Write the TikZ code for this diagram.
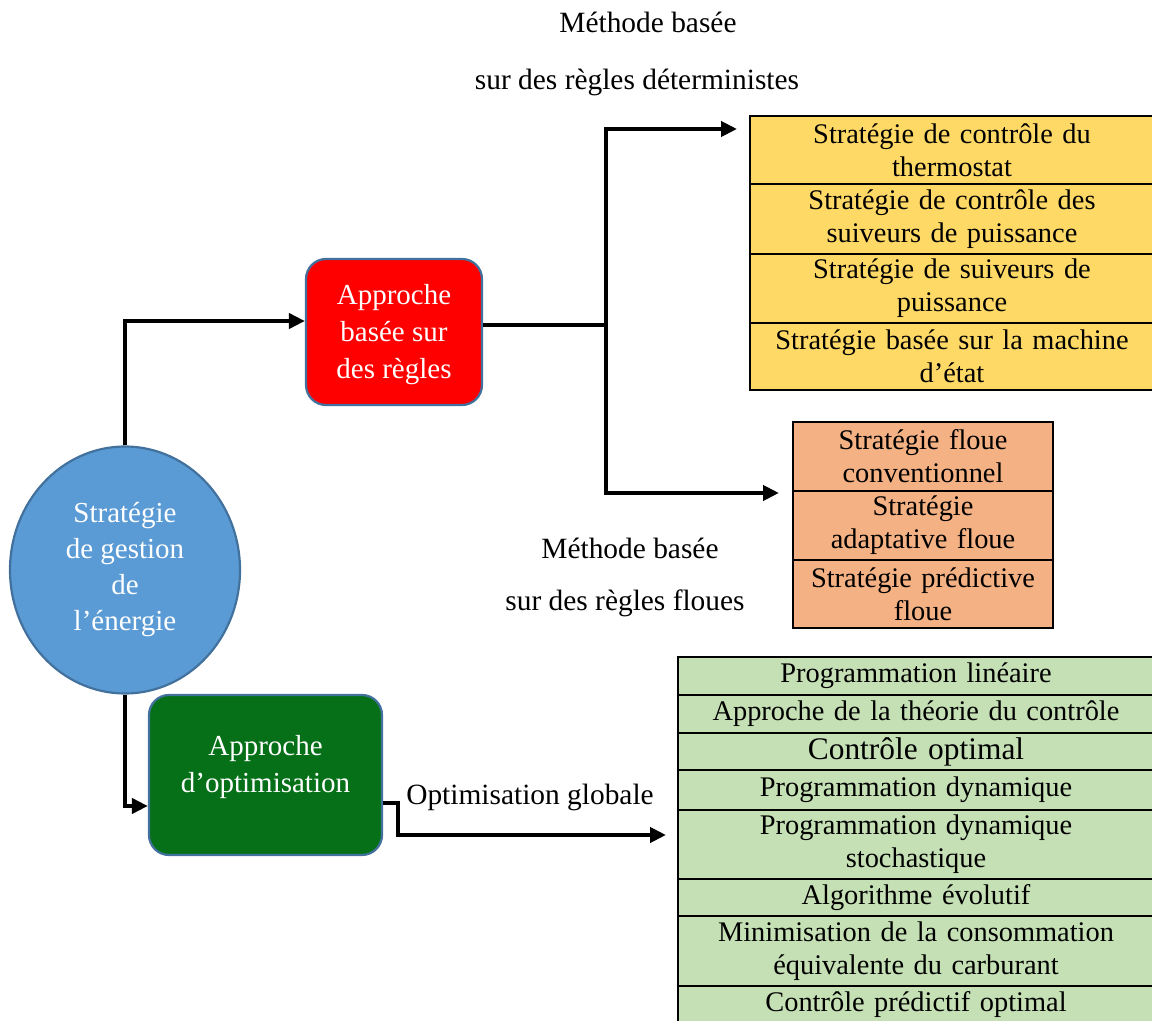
\documentclass[tikz,border=0pt]{standalone}
\usepackage{fontspec}
\setmainfont{Liberation Serif}
\usetikzlibrary{arrows.meta,shapes.geometric,calc}
\definecolor{yfill}{HTML}{FFD966}
\definecolor{ofill}{HTML}{F4B183}
\definecolor{gfill}{HTML}{C5E0B4}
\definecolor{bord}{HTML}{41719C}
\definecolor{rfill}{RGB}{255,0,0}
\definecolor{rdark}{RGB}{185,0,0}
\definecolor{bfill}{HTML}{5B9BD5}
\definecolor{bdark}{RGB}{62,112,170}
\definecolor{dgfill}{RGB}{6,112,24}
\definecolor{dgdark}{RGB}{0,68,12}
\pgfdeclareradialshading{redglow}{\pgfpointorigin}{color(0bp)=(rfill); color(37bp)=(rfill); color(53bp)=(rdark); color(100bp)=(rdark)}
\pgfdeclareradialshading{greenglow}{\pgfpointorigin}{color(0bp)=(dgfill); color(37bp)=(dgfill); color(53bp)=(dgdark); color(100bp)=(dgdark)}
\pgfdeclareradialshading{blueglow}{\pgfpointorigin}{color(0bp)=(bfill); color(43bp)=(bfill); color(50bp)=(bdark); color(100bp)=(bdark)}
\tikzset{
  txt/.style={font=\fontsize{14.2}{16.5}\selectfont, align=center, inner sep=0pt},
  cell/.style={txt, draw=black, line width=1pt, minimum width=#1, text width=#1},
  ycell/.style={cell=202pt, fill=yfill},
  ocell/.style={cell=130pt, fill=ofill},
  gcell/.style={cell=238pt, fill=gfill},
  rbox/.style={draw=bord, line width=1.1pt, rounded corners=10pt, shade},
  wtxt/.style={align=center, inner sep=0pt, text=white},
  conn/.style={line width=2pt, -{Triangle[length=8pt,width=7.5pt]}},
  plain/.style={line width=2pt},
  lbl/.style={font=\fontsize{14.7}{17}\selectfont, inner sep=0pt}
}
\begin{document}
\begin{tikzpicture}[x=0.5pt,y=-0.5pt]
\useasboundingbox (0,0) rectangle (1152,1021);
\clip (0,0) rectangle (1152,1021);

% labels
\node[lbl] (l1) at (648,22) {Méthode basée};
\node[lbl] (l2) at (637,82) {sur des règles déterministes};
\node[lbl] (l3) at (630,548) {Méthode basée};
\node[lbl] (l4) at (625,603) {sur des règles floues};
\node[lbl] (l5) at (530,797) {Optimisation globale};

% main shapes
\node[ellipse, minimum width=115pt, minimum height=123.5pt, inner sep=0pt, draw=bord, line width=1.1pt,
      shade, shading=blueglow, text=white, align=center, font=\fontsize{14.5}{18}\selectfont]
      (ell) at (125,570) {Stratégie\\de gestion\\de\\l’énergie};
\node[rbox, shading=redglow, minimum width=88pt, minimum height=73pt] (red) at (394,332) {};
\node[wtxt, font=\fontsize{14.5}{18.5}\selectfont] (redtxt) at (394,335) {Approche\\basée sur\\des règles};
\node[rbox, shading=greenglow, minimum width=116.5pt, minimum height=80pt] (grn) at (265.5,775) {};
\node[wtxt, font=\fontsize{14.5}{18.5}\selectfont] (grntxt) at (265.5,767) {Approche\\d’optimisation};

% yellow table
\node[ycell, minimum height=34pt] (y1) at (952,150) {Stratégie de contrôle du\\thermostat};
\node[ycell, minimum height=35pt] (y2) at (952,219) {Stratégie de contrôle des\\suiveurs de puissance};
\node[ycell, minimum height=34.5pt] (y3) at (952,288.5) {Stratégie de suiveurs de\\puissance};
\node[ycell, minimum height=33.5pt] (y4) at (952,356.5) {Stratégie basée sur la machine\\d’état};

% orange table
\node[ocell, minimum height=34.5pt] (o1) at (923,456.5) {Stratégie floue\\conventionnel};
\node[ocell, minimum height=34.5pt] (o2) at (923,525.5) {Stratégie\\adaptative floue};
\node[ocell, minimum height=34pt] (o3) at (923,594) {Stratégie prédictive\\floue};

% green table
\node[gcell, minimum height=19pt] (g1) at (916,676) {Programmation linéaire};
\node[gcell, minimum height=19pt] (g2) at (916,714) {Approche de la théorie du contrôle};
\node[gcell, minimum height=18.5pt, font=\fontsize{15.7}{17}\selectfont] (g3) at (916,751.5) {Contrôle optimal};
\node[gcell, minimum height=20pt] (g4) at (916,790) {Programmation dynamique};
\node[gcell, minimum height=34.5pt] (g5) at (916,844.5) {Programmation dynamique\\stochastique};
\node[gcell, minimum height=18.5pt] (g6) at (916,897.5) {Algorithme évolutif};
\node[gcell, minimum height=35pt] (g7) at (916,951) {Minimisation de la consommation\\équivalente du carburant};
\node[gcell, minimum height=19pt] (g8) at (916,1005) {Contrôle prédictif optimal};

% connectors
\draw[conn] (ell.north) |- ($(red.west)+(0,-11)$);
\coordinate (split) at (606,325);
\coordinate (yt) at (737,129);
\coordinate (ot) at (779,493);
\draw[plain] (red.east |- split) -- (split);
\draw[conn] (split) |- (yt);
\draw[conn] (split) |- (ot);
\draw[conn] (ell.south) |- ($(grn.west)+(0,31)$);
\coordinate (gbend) at (398,803);
\coordinate (gt) at (666,835);
\draw[conn] (grn.east |- gbend) -- (gbend) |- (gt);
\end{tikzpicture}
\end{document}
